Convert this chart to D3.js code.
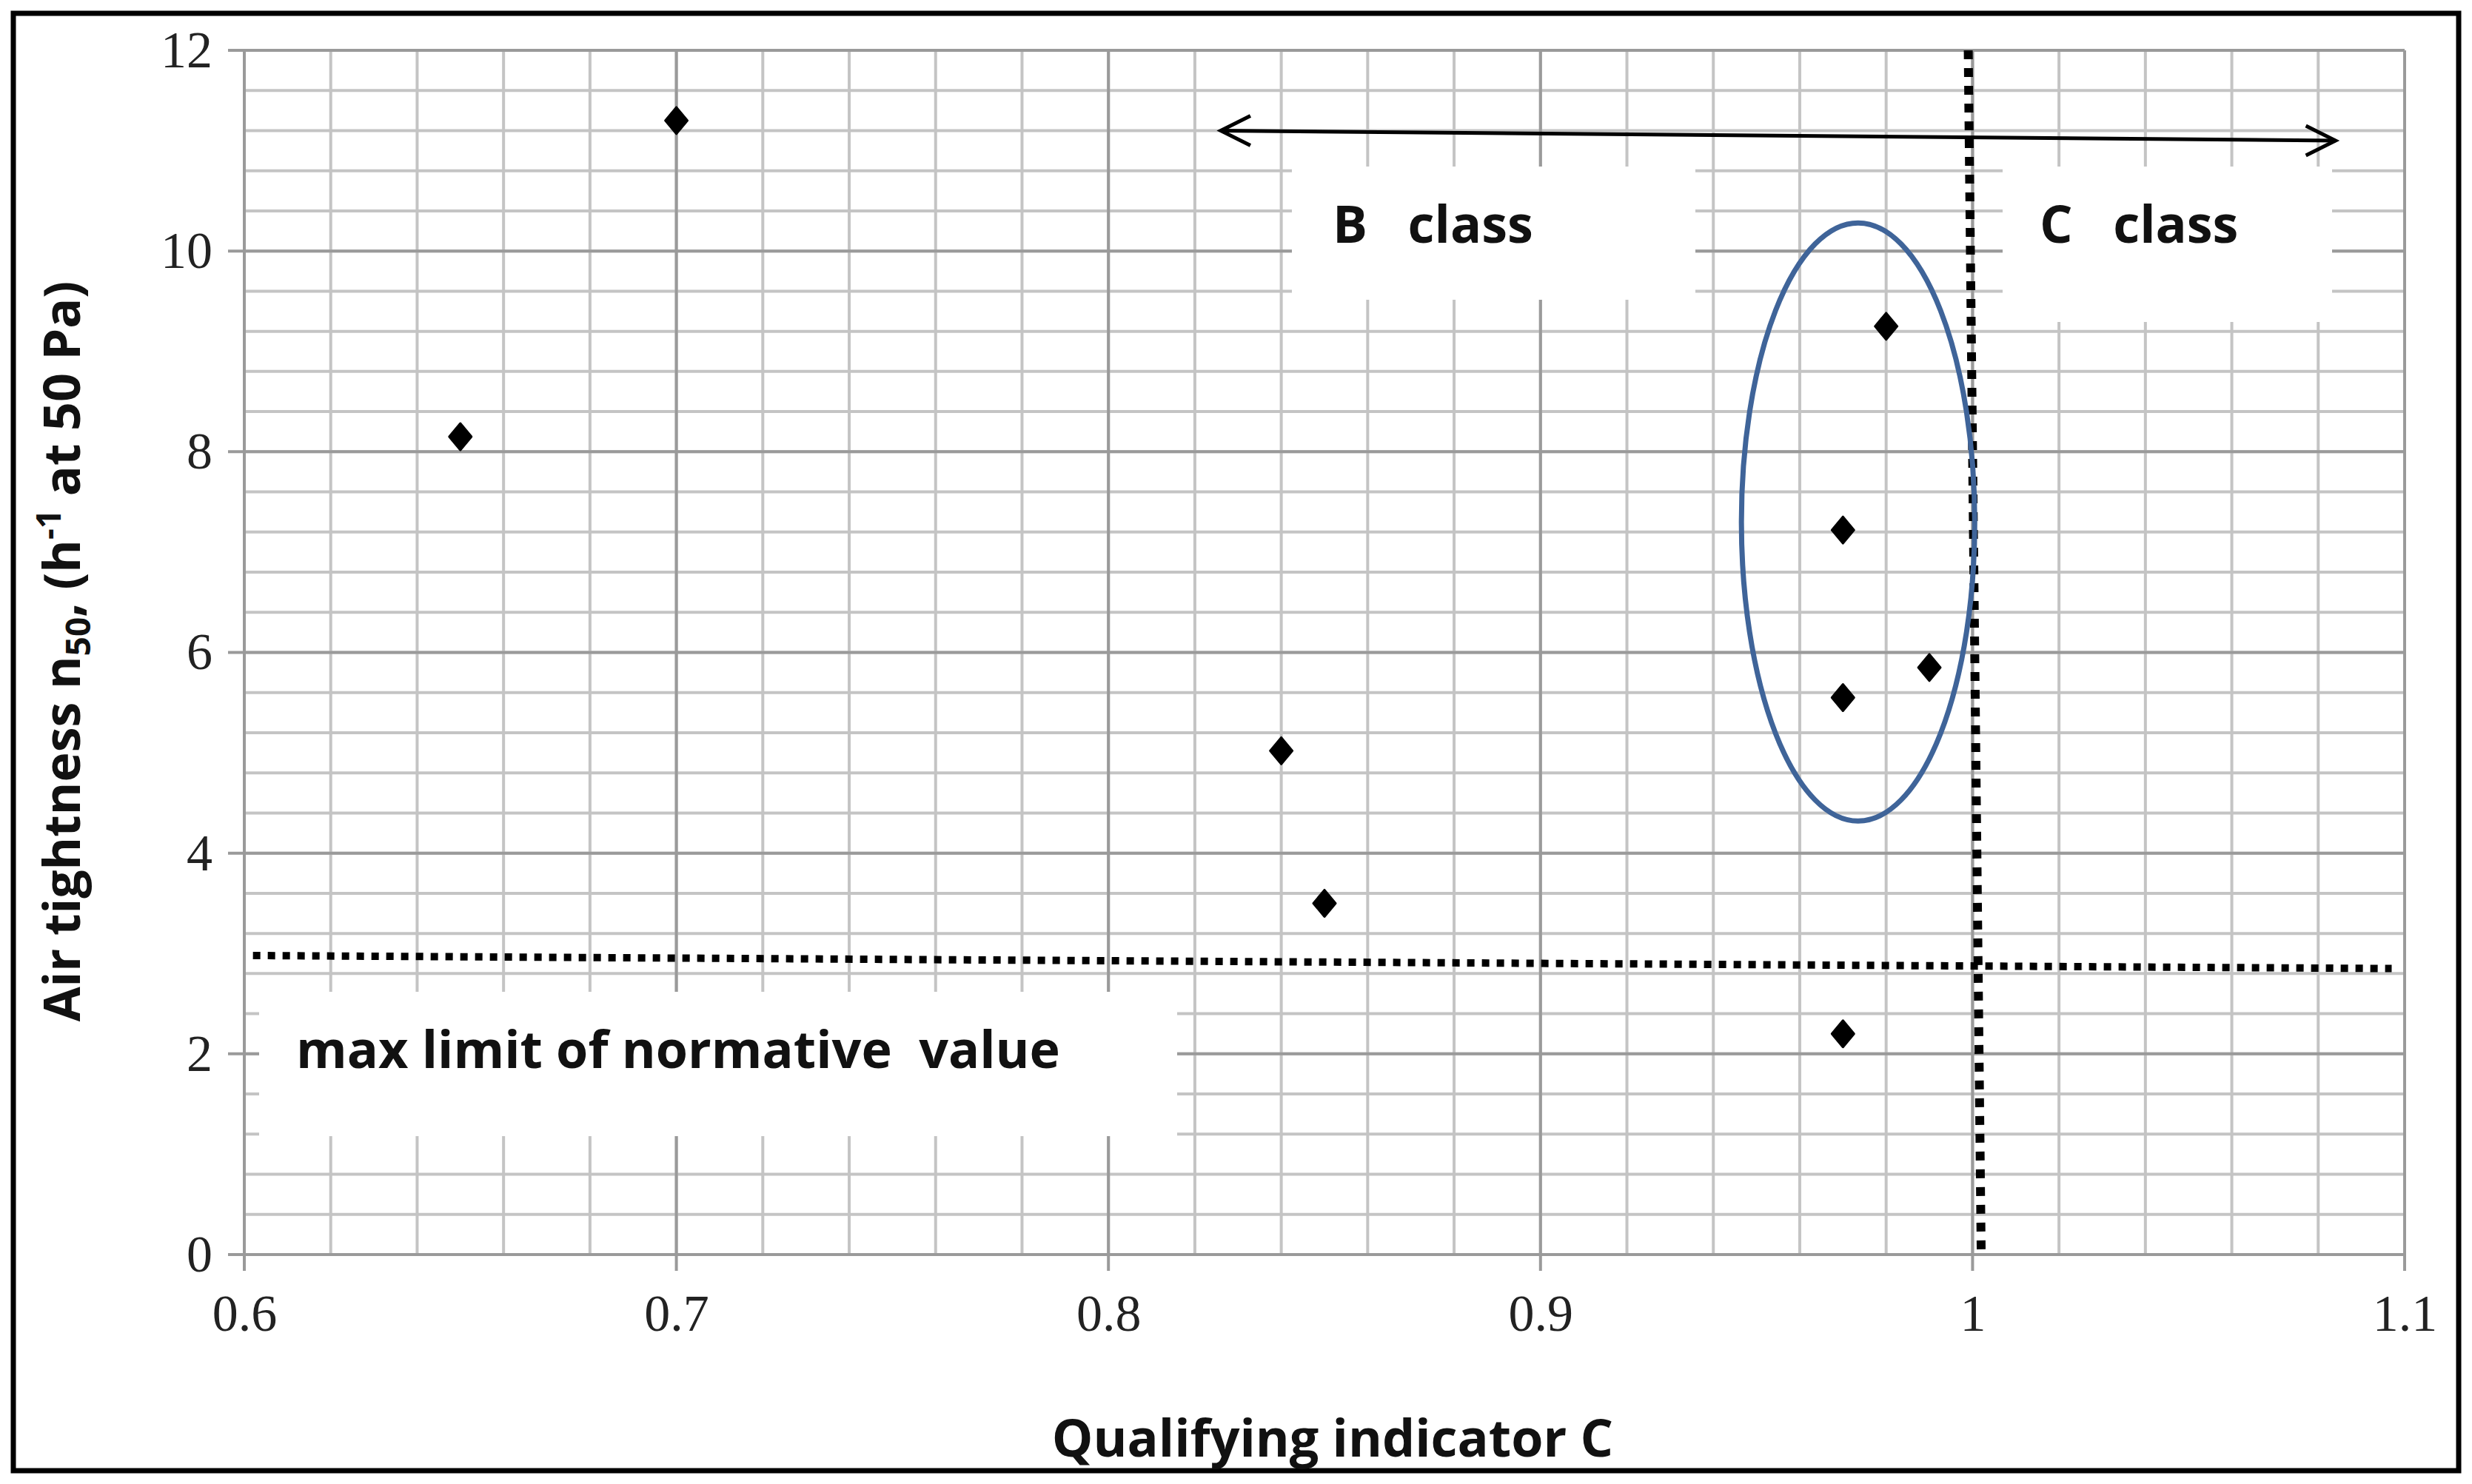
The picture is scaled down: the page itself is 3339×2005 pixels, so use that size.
<!DOCTYPE html>
<html><head><meta charset="utf-8">
<script src="https://cdn.jsdelivr.net/npm/d3@7/dist/d3.min.js"></script>
<style>body{margin:0;background:#fff}</style></head>
<body><svg id="c" width="3339" height="2005"></svg>
<script>
const xTicks = [0.6, 0.7, 0.8, 0.9, 1, 1.1];
const yTicks = [0, 2, 4, 6, 8, 10, 12];
const qualX = [0.65, 0.70, 0.84, 0.85, 0.97, 0.97, 0.97, 0.98, 0.99];
const airY  = [8.15, 11.3, 5.02, 3.5, 2.2, 5.55, 7.22, 9.25, 5.85];
const limitLine = [[0.602, 2.98], [1.097, 2.85]];
const classLine = [[0.999, 12], [1.002, 0]];
const arrowPts = [[0.826, 11.2], [1.084, 11.1]];
const ellipse = {cx: 0.9735, cy: 7.3, rx: 0.027, ry: 2.98};

const svg = d3.select("#c");
const W = 3339, H = 2005;
const L = 330, R = 3248, T = 68, B = 1695;
const x = d3.scaleLinear().domain([0.6, 1.1]).range([L, R]);
const y = d3.scaleLinear().domain([0, 12]).range([B, T]);

svg.append("rect").attr("x",0).attr("y",0).attr("width",W).attr("height",H).attr("fill","#fff");
svg.append("rect").attr("x",18).attr("y",18).attr("width",W-36).attr("height",H-36)
  .attr("fill","none").attr("stroke","#000").attr("stroke-width",7);

const g = svg.append("g");
d3.range(0, 12.001, 0.4).forEach(v => {
  g.append("line").attr("x1",L).attr("x2",R).attr("y1",y(v)).attr("y2",y(v))
   .attr("stroke","#c4c4c4").attr("stroke-width",4);
});
d3.range(0.6, 1.1001, 0.02).forEach(v => {
  g.append("line").attr("y1",T).attr("y2",B).attr("x1",x(v)).attr("x2",x(v))
   .attr("stroke","#c4c4c4").attr("stroke-width",4);
});
yTicks.forEach(v => g.append("line").attr("x1",L-22).attr("x2",R).attr("y1",y(v)).attr("y2",y(v))
   .attr("stroke","#9a9a9a").attr("stroke-width",4));
xTicks.forEach(v => g.append("line").attr("y1",T).attr("y2",B+22).attr("x1",x(v)).attr("x2",x(v))
   .attr("stroke","#9a9a9a").attr("stroke-width",4));

const ax = svg.append("g").attr("transform",`translate(0,${B+40})`)
  .call(d3.axisBottom(x).tickValues(xTicks).tickSize(0).tickFormat(d3.format("~g")));
ax.select(".domain").remove();
ax.selectAll("text").attr("font-family","Liberation Serif").attr("font-size",70).attr("fill","#222").attr("dy","0.85em");
const ay = svg.append("g").attr("transform",`translate(${L-40},0)`)
  .call(d3.axisLeft(y).tickValues(yTicks).tickSize(0));
ay.select(".domain").remove();
ay.selectAll("text").attr("font-family","Liberation Serif").attr("font-size",70).attr("fill","#222");

const boxes = [[1745,225,545,180],[2705,225,445,210],[350,1340,1240,195]];
boxes.forEach(b => svg.append("rect").attr("x",b[0]).attr("y",b[1]).attr("width",b[2]).attr("height",b[3]).attr("fill","#fff"));

const line = d3.line().x(d=>x(d[0])).y(d=>y(d[1]));
svg.append("path").attr("d",line(limitLine)).attr("stroke","#000").attr("stroke-width",10)
  .attr("stroke-dasharray","10 10").attr("fill","none");
svg.append("path").attr("d",line(classLine)).attr("stroke","#000").attr("stroke-width",12)
  .attr("stroke-dasharray","12 12").attr("fill","none");

const ah = 40;
svg.append("path").attr("d",line(arrowPts)).attr("stroke","#000").attr("stroke-width",5).attr("fill","none");
const a0 = [x(arrowPts[0][0]), y(arrowPts[0][1])], a1 = [x(arrowPts[1][0]), y(arrowPts[1][1])];
svg.append("path").attr("d",`M${a0[0]+ah},${a0[1]-20}L${a0[0]},${a0[1]}L${a0[0]+ah},${a0[1]+20}`)
  .attr("stroke","#000").attr("stroke-width",5).attr("fill","none");
svg.append("path").attr("d",`M${a1[0]-ah},${a1[1]-20}L${a1[0]},${a1[1]}L${a1[0]-ah},${a1[1]+20}`)
  .attr("stroke","#000").attr("stroke-width",5).attr("fill","none");

svg.append("ellipse").attr("cx",x(ellipse.cx)).attr("cy",y(ellipse.cy))
  .attr("rx",x(ellipse.cx+ellipse.rx)-x(ellipse.cx)).attr("ry",y(ellipse.cy-ellipse.ry)-y(ellipse.cy))
  .attr("fill","none").attr("stroke","#3f6499").attr("stroke-width",7);

qualX.forEach((q,i) => {
  svg.append("path").attr("d","M0,-18L15,0L0,18L-15,0Z").attr("transform",`translate(${x(q)},${y(airY[i])})`)
    .attr("fill","#000").attr("stroke","#000").attr("stroke-width",3).attr("stroke-linejoin","round");
});

const tf = "Open Sans";
const t = (s,xx,yy) => svg.append("text").attr("x",xx).attr("y",yy).attr("font-family",tf)
  .attr("font-weight","bold").attr("font-size",70).attr("fill","#111").attr("xml:space","preserve").text(s);
t("B   class",1800,328);
t("C   class",2755,328);
t("max limit of normative  value",400,1443);

svg.append("text").attr("x",1800).attr("y",1968).attr("text-anchor","middle").attr("font-family",tf)
  .attr("font-weight","bold").attr("font-size",70).attr("fill","#111").text("Qualifying indicator C");
const yl = svg.append("text").attr("transform","translate(108,880) rotate(-90)").attr("text-anchor","middle")
  .attr("font-family",tf).attr("font-weight","bold").attr("font-size",68).attr("fill","#111");
yl.append("tspan").text("Air tightness n");
yl.append("tspan").attr("font-size",46).attr("dy",14).text("50");
yl.append("tspan").attr("dy",-14).text(", (h");
yl.append("tspan").attr("font-size",46).attr("dy",-26).text("-1");
yl.append("tspan").attr("dy",26).text(" at 50 Pa)");
</script></body></html>
